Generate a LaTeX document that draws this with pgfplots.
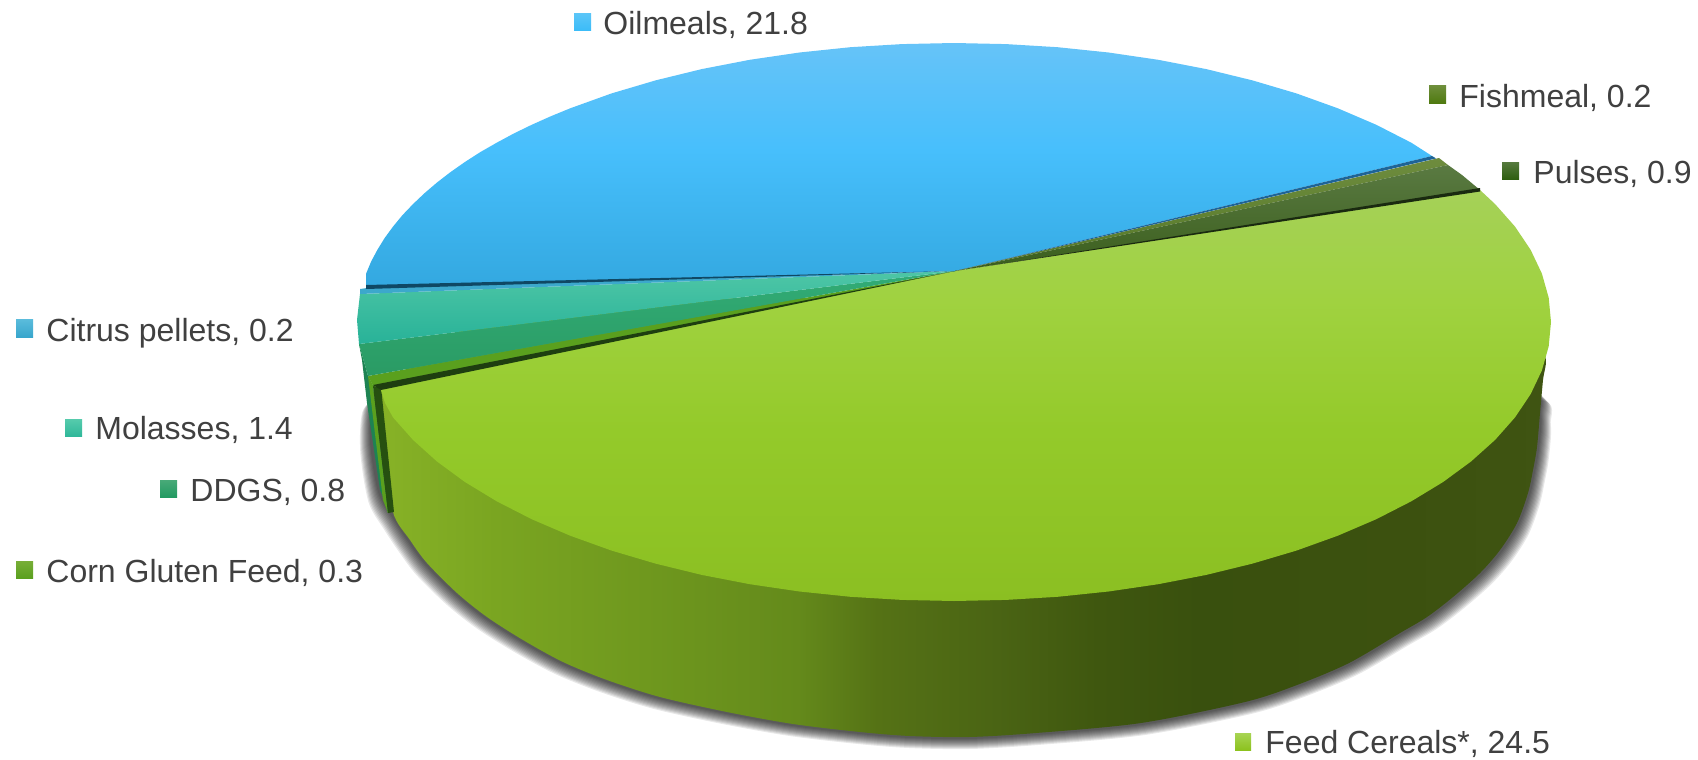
\documentclass[border=0pt]{standalone}
\usepackage{fontspec}
\setmainfont{Liberation Sans}
\usepackage{pgfplots}
\usepackage{pgfplotstable}
\pgfplotsset{compat=1.18}

% bottom rim of the cake, read off in image pixels (shadow only, tapered at both ends)
\pgfplotstableread{
x y
388 385
374 400
372 440
380 490
395 517
410 540
427 563
457 593
487 617
523 640
563 662
607 680
660 697
727 712
793 724
860 732
910 736
969 737
1036 733
1141 723
1245 702
1297 685
1349 663
1400 633
1427 617
1453 597
1480 573
1500 550
1517 523
1528 493
1533 470
1537 447
1539 413
1528 388
1400 400
500 400
}\rimtable

\definecolor{labeltext}{HTML}{404040}
\definecolor{wa}{HTML}{86B126}
\definecolor{wb}{HTML}{7AA521}
\definecolor{wc}{HTML}{6F981E}
\definecolor{wd}{HTML}{648A1B}
\definecolor{we}{HTML}{557215}
\definecolor{wf}{HTML}{4A6414}
\definecolor{wg}{HTML}{3F570F}
\definecolor{wh}{HTML}{39500E}
\definecolor{wi}{HTML}{3C510F}
\definecolor{wj}{HTML}{3F5412}
\pgfdeclarehorizontalshading{wall}{100bp}{color(0bp)=(wa); color(25.5bp)=(wa); color(30bp)=(wb); color(36.4bp)=(wc); color(42.9bp)=(wd); color(46.3bp)=(we); color(51.4bp)=(wf); color(55.7bp)=(wg); color(60bp)=(wh); color(68.6bp)=(wi); color(75bp)=(wj); color(100bp)=(wj)}

\definecolor{oa}{HTML}{33A8E0}
\definecolor{ob}{HTML}{47BFFC}
\definecolor{oc}{HTML}{66C3F8}
\pgfdeclareverticalshading{oilface}{100bp}{color(0bp)=(oa); color(25bp)=(oa); color(53bp)=(ob); color(75bp)=(oc); color(100bp)=(oc)}
\definecolor{fa}{HTML}{8BBF22}
\definecolor{fb}{HTML}{94CA2A}
\definecolor{fc}{HTML}{A0D240}
\definecolor{fd}{HTML}{A5D158}
\pgfdeclareverticalshading{feedface}{100bp}{color(0bp)=(fa); color(25bp)=(fa); color(45.8bp)=(fb); color(61.6bp)=(fc); color(75bp)=(fd); color(100bp)=(fd)}

\definecolor{sOil}{HTML}{5CC6F8}\definecolor{sOilb}{HTML}{3CBCF8}
\definecolor{sFish}{HTML}{6F8F3C}\definecolor{sFishb}{HTML}{4F7A10}
\definecolor{sPul}{HTML}{567A3E}\definecolor{sPulb}{HTML}{2F5F10}
\definecolor{sCit}{HTML}{5BBCDC}\definecolor{sCitb}{HTML}{38A6CC}
\definecolor{sMol}{HTML}{56CBAC}\definecolor{sMolb}{HTML}{30B89A}
\definecolor{sDdg}{HTML}{48AA78}\definecolor{sDdgb}{HTML}{239A62}
\definecolor{sCor}{HTML}{78AE38}\definecolor{sCorb}{HTML}{5AA01E}
\definecolor{sFee}{HTML}{A8D454}\definecolor{sFeeb}{HTML}{8CC21E}

\newcommand{\swatch}[6]{\addplot[draw=none,top color=#5,bottom color=#6] coordinates {(#1,#3)(#2,#3)(#2,#4)(#1,#4)};}
\newcommand{\shadowlayer}[1]{\addplot[draw=none,fill=black,fill opacity=0.09,smooth] table[x expr={954+(\thisrow{x}-954)*(597+#1)/597},y expr={\thisrow{y}+#1}] {\rimtable};}
\newcommand{\lbl}[3]{\node[anchor=base west,inner sep=0pt,text=labeltext,font=\fontsize{16}{18}\selectfont] at (axis cs:#1,#2) {#3};}

\begin{document}
\begin{tikzpicture}
\useasboundingbox (0,0) rectangle (849pt,380pt);
\begin{axis}[at={(0,0)},anchor=south west,scale only axis,width=849pt,height=380pt,
  xmin=0,xmax=1698,ymin=0,ymax=760,y dir=reverse,hide axis,clip=false]

% soft shadow
\shadowlayer{12}
\shadowlayer{11}
\shadowlayer{10}
\shadowlayer{9}
\shadowlayer{8}
\shadowlayer{7}
\shadowlayer{6}
\shadowlayer{5}
\shadowlayer{4}
\shadowlayer{3}
\shadowlayer{2}

% outer wall
\addplot[draw=none,smooth,shading=wall] coordinates {
 (378,390)(386,450)(393,512)(410,540)(427,563)(457,593)(487,617)(523,640)(563,662)(607,680)(660,697)(727,712)(793,724)(860,732)(910,736)(969,737)(1036,733)(1141,723)(1245,702)(1297,685)(1349,663)(1400,633)(1427,617)(1453,597)(1480,573)(1500,550)(1517,523)(1528,493)(1533,470)(1537,447)(1540,413)(1543,380)(1545.5,358)(1530,345)(1400,300)(500,300)};
% walls seen at the left, where the slices open up
\addplot[draw=none,fill=sDdgb!85!black] coordinates {(359,344)(368,376)(373,386)(388,513)(385,502)(380,490)(367,403)(362,360)};
\addplot[draw=none,fill=sCorb] coordinates {(368,376)(373,386)(388,513)(383,500)};
\addplot[draw=none,fill={rgb,255:red,38;green,80;blue,16}] coordinates {(373,386)(381,387)(394,512)(388,513)};

% top faces
\addplot[draw=none,shading=oilface] coordinates {
 (955,271)(366,287)(366.1,273.6)(371.1,261.6)(377.4,249.8)(384.6,238.1)(393,226.6)(402.4,215.2)(413,204.1)(424.5,193.2)(437,182.5)(450.5,172.1)(464.9,162)(480.3,152.1)(496.7,142.7)(513.8,133.5)(531.9,124.7)(550.7,116.3)(570.2,108.3)(611.6,93.4)(655.5,80.4)(701.7,69.1)(749.8,59.8)(799.5,52.5)(850.4,47.2)(901.9,44.1)(954,43)(1006.1,44.1)(1057.6,47.2)(1108.5,52.5)(1158.2,59.8)(1206.3,69.1)(1252.5,80.4)(1296.4,93.4)(1337.8,108.3)(1376.1,124.7)(1411.3,142.7)(1432,156)};
\addplot[draw=none,top color={rgb,255:red,110;green,140;blue,62},bottom color={rgb,255:red,85;green,120;blue,40}] coordinates {(955,271)(1439,158)(1448,165)};
\addplot[draw=none,top color={rgb,255:red,90;green,122;blue,66},bottom color={rgb,255:red,58;green,94;blue,28}] coordinates {(955,271)(1448,165)(1462,175)(1480,190)};
\addplot[draw=none,shading=feedface] coordinates {
 (955,271)(1480,190)(1495.1,204.1)(1515,226.6)(1530.6,249.8)(1541.9,273.6)(1548.7,297.7)(1551,322)(1548.7,346.3)(1541.9,370.4)(1530.6,394.2)(1515,417.4)(1495.1,439.9)(1471,461.5)(1443.1,482)(1411.3,501.3)(1376.1,519.3)(1337.8,535.7)(1296.4,550.6)(1252.5,563.6)(1206.3,574.9)(1158.2,584.2)(1108.5,591.5)(1057.6,596.8)(1006.1,599.9)(954,601)(901.9,599.9)(850.4,596.8)(799.5,591.5)(749.8,584.2)(701.7,574.9)(655.5,563.6)(611.6,550.6)(570.2,535.7)(531.9,519.3)(496.7,501.3)(464.9,482)(437,461.5)(413,439.9)(393,417.4)(385,403)(380,387)};
\addplot[draw=none,fill=sCorb] coordinates {(955,271)(368,376)(373,386)(380,387)};
\addplot[draw=none,top color={rgb,255:red,50;green,172;blue,118},bottom color={rgb,255:red,42;green,155;blue,100}] coordinates {(955,271)(359,344)(368,376)};
\addplot[draw=none,top color={rgb,255:red,78;green,198;blue,166},bottom color={rgb,255:red,40;green,178;blue,152}] coordinates {(955,271)(360,294)(357,320)(359,344)};
\addplot[draw=none,fill={rgb,255:red,60;green,168;blue,204}] coordinates {(955,271)(367,288)(360,289)(360,294)};

% dark seams between the slices, tapering towards the centre
\addplot[draw=none,fill={rgb,255:red,15;green,72;blue,100}] coordinates {(366,285)(955,271)(366,289)};
\addplot[draw=none,fill={rgb,255:red,30;green,100;blue,150}] coordinates {(955,271)(1432,156)(1436,158.4)};
\addplot[draw=none,fill={rgb,255:red,30;green,62;blue,16}] coordinates {(373,385)(955,271)(381,390)};
\addplot[draw=none,fill={rgb,255:red,26;green,42;blue,16}] coordinates {(955,271)(1480,188)(1480,191.5)};

% legend keys
\swatch{574}{591}{13}{30}{sOil}{sOilb}
\swatch{1429}{1446}{85}{103}{sFish}{sFishb}
\swatch{1502}{1519}{162}{179}{sPul}{sPulb}
\swatch{16}{33}{319}{337}{sCit}{sCitb}
\swatch{65}{82}{419}{436}{sMol}{sMolb}
\swatch{160}{177}{480}{497}{sDdg}{sDdgb}
\swatch{16}{33}{561}{578}{sCor}{sCorb}
\swatch{1235}{1251}{733}{750}{sFee}{sFeeb}

% labels
\lbl{603}{34}{Oilmeals, 21.8}
\lbl{1459}{107}{Fishmeal, 0.2}
\lbl{1533}{183}{Pulses, 0.9}
\lbl{46}{341}{Citrus pellets, 0.2}
\lbl{95}{439}{Molasses, 1.4}
\lbl{190}{501}{DDGS, 0.8}
\lbl{46}{582}{Corn Gluten Feed, 0.3}
\lbl{1265}{753}{Feed Cereals*, 24.5}
\end{axis}
\end{tikzpicture}
\end{document}
